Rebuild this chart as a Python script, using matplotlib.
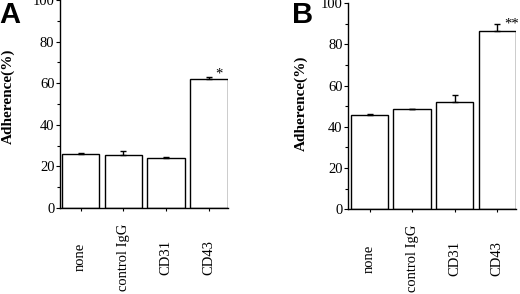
import numpy as np
import matplotlib
matplotlib.use("Agg")
import matplotlib.pyplot as plt
from matplotlib.ticker import MultipleLocator

categories = ["none", "control IgG", "CD31", "CD43"]

# panel A
vals_a = [26.1, 25.6, 24.2, 62.0]
err_a = [0.5, 1.9, 0.3, 1.0]
# panel B
vals_b = [45.6, 48.5, 51.9, 86.3]
err_b = [0.8, 0.0, 3.7, 3.4]

marks_a = ["", "", "", "*"]
marks_b = ["", "", "", "**"]

serif = ["Liberation Serif", "DejaVu Serif"]
W, H = 520, 294

fig = plt.figure(figsize=(5.2, 2.94), dpi=100)


def px_axes(left, right, top, bottom):
    return fig.add_axes([left / W, 1 - bottom / H, (right - left) / W, (bottom - top) / H])


def panel(ax, vals, errs, marks, xlim, mark_dx, mark_dy):
    x = np.arange(len(categories))
    ax.bar(x, vals, width=0.88, color="white", edgecolor="black", linewidth=1.0, zorder=2)
    lower = np.zeros(len(errs))
    ax.errorbar(x, vals, yerr=[lower, errs], fmt="none", ecolor="black",
                elinewidth=1.0, capsize=2.0, capthick=1.0, zorder=3)
    for xi, v, e, m in zip(x, vals, errs, marks):
        if m:
            ax.text(xi + mark_dx, v + e + mark_dy, m, ha="center", va="bottom",
                    fontsize=10.5, family=serif)
    ax.set_xlim(*xlim)
    ax.set_ylim(0, 100)
    ax.yaxis.set_major_locator(MultipleLocator(20))
    ax.yaxis.set_minor_locator(MultipleLocator(10))
    ax.set_xticks(x)
    ax.set_xticklabels(categories, rotation=90, fontsize=10.5, family=serif,
                       va="center", ha="center")
    ax.tick_params(axis="x", length=2.5, width=0.8, pad=33)
    ax.tick_params(axis="y", which="major", length=3, width=0.8, pad=1, labelsize=10.5)
    ax.tick_params(axis="y", which="minor", length=2, width=0.8)
    for lab in ax.get_yticklabels():
        lab.set_family(serif)
    ax.spines["top"].set_visible(False)
    ax.spines["right"].set_visible(False)
    ax.spines["left"].set_linewidth(1.0)
    ax.spines["bottom"].set_linewidth(1.0)
    ax.set_facecolor("none")


ax_a = px_axes(60, 228.3, 0, 208)
panel(ax_a, vals_a, err_a, marks_a, (-0.48, 3.45), 0.24, -1.5)

ax_b = px_axes(348.3, 516, 3, 209.3)
panel(ax_b, vals_b, err_b, marks_b, (-0.50, 3.44), 0.34, -3.0)

fig.text(8.5 / W, 1 - 96 / H, "Adherence(%)", rotation=90, ha="center", va="center",
         fontsize=11, fontweight="bold", family=serif)
fig.text(301 / W, 1 - 103 / H, "Adherence(%)", rotation=90, ha="center", va="center",
         fontsize=11, fontweight="bold", family=serif)

fig.text(-1 / W, 1 - 15 / H, "A", ha="left", va="center", fontsize=21,
         fontweight="bold", family=["Liberation Sans", "DejaVu Sans"])
fig.text(292 / W, 1 - 15 / H, "B", ha="left", va="center", fontsize=21,
         fontweight="bold", family=["Liberation Sans", "DejaVu Sans"])

fig.savefig("out.png", dpi=100)
